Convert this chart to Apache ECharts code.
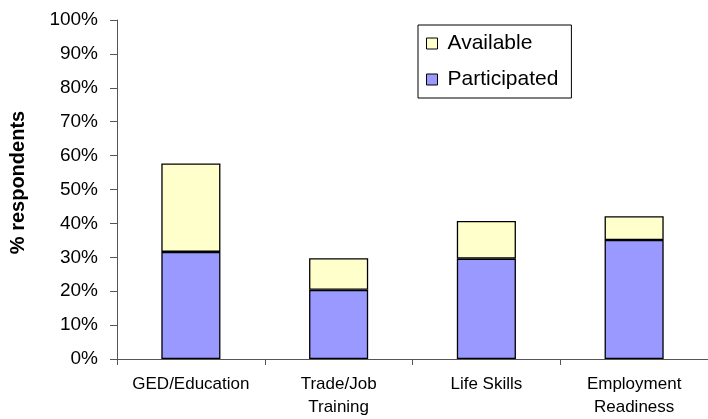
<!DOCTYPE html>
<html>
<head>
<meta charset="utf-8">
<script src="https://cdn.jsdelivr.net/npm/echarts@6/dist/echarts.min.js"></script>
<style>html,body{margin:0;padding:0;background:#fff;}#c{width:708px;height:419px;}</style>
</head>
<body>
<div id="c"></div>
<script>
const categories = ['GED/Education', 'Trade/Job\nTraining', 'Life Skills', 'Employment\nReadiness'];
const participated = [31.6, 20.4, 29.6, 35.1];
const available = [26.1, 9.3, 11.1, 7.0];
const yTicks = [0, 10, 20, 30, 40, 50, 60, 70, 80, 90, 100];

const font = 'Liberation Sans, Arial, sans-serif';
const axisColor = '#555555';
const chart = echarts.init(document.getElementById('c'), null, {renderer: 'canvas'});
chart.setOption({
  animation: false,
  backgroundColor: '#ffffff',
  textStyle: {fontFamily: font, color: '#000'},
  grid: {left: 116, top: 20, right: -4, bottom: 58, containLabel: false},
  legend: {
    data: ['Available', 'Participated'],
    orient: 'vertical',
    left: 418,
    top: 25,
    padding: [8, 13, 8, 8],
    itemGap: 15,
    itemWidth: 11,
    itemHeight: 11,
    itemStyle: {borderColor: '#000', borderWidth: 1},
    borderColor: '#000',
    borderWidth: 1,
    backgroundColor: '#fff',
    textStyle: {fontFamily: font, fontSize: 21, lineHeight: 21, color: '#000', padding: [0, 0, 0, 5]},
    icon: 'rect'
  },
  xAxis: {
    type: 'category',
    data: categories,
    axisLine: {show: true, lineStyle: {color: axisColor, width: 1}},
    axisTick: {show: true, length: 6, lineStyle: {color: axisColor}},
    axisLabel: {fontFamily: font, fontSize: 17, color: '#000', margin: 14, lineHeight: 23, interval: 0}
  },
  yAxis: {
    type: 'value',
    min: yTicks[0],
    max: yTicks[yTicks.length - 1],
    interval: yTicks[1] - yTicks[0],
    name: '% respondents',
    nameLocation: 'middle',
    nameGap: 89,
    nameTextStyle: {fontFamily: font, fontSize: 20, fontWeight: 'bold', color: '#000', padding: [0, 0, 0, 14]},
    splitLine: {show: false},
    axisLine: {show: true, lineStyle: {color: axisColor, width: 1}},
    axisTick: {show: true, length: 7, lineStyle: {color: axisColor}},
    axisLabel: {fontFamily: font, fontSize: 19, color: '#000', margin: 19, formatter: '{value}%'}
  },
  series: [
    {
      name: 'Participated',
      type: 'bar',
      stack: 'total',
      barWidth: '40%',
      data: participated,
      itemStyle: {color: '#9999FF', borderColor: '#000', borderWidth: 1.3}
    },
    {
      name: 'Available',
      type: 'bar',
      stack: 'total',
      barWidth: '40%',
      data: available,
      itemStyle: {color: '#FFFFCC', borderColor: '#000', borderWidth: 1.3}
    }
  ]
});
</script>
</body>
</html>
